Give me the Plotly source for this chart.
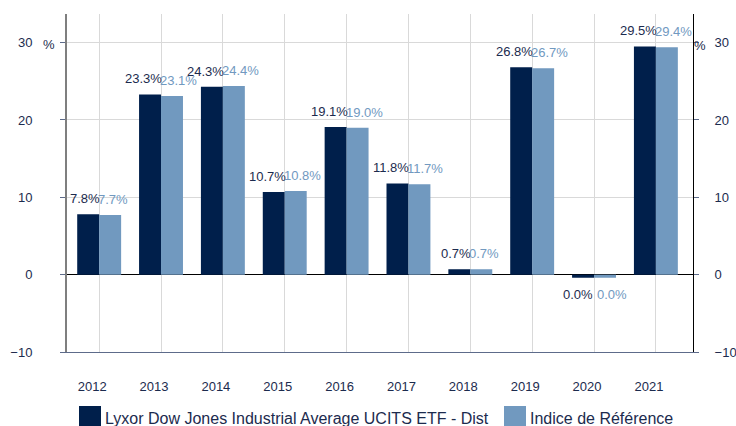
import plotly.graph_objects as go

years = ["2012", "2013", "2014", "2015", "2016", "2017", "2018", "2019", "2020", "2021"]
fund = [7.8, 23.3, 24.3, 10.7, 19.1, 11.8, 0.7, 26.8, -0.4, 29.5]
index = [7.7, 23.1, 24.4, 10.8, 19.0, 11.7, 0.7, 26.7, -0.4, 29.4]
fund_labels = ["7.8%", "23.3%", "24.3%", "10.7%", "19.1%", "11.8%", "0.7%", "26.8%", "0.0%", "29.5%"]
index_labels = ["7.7%", "23.1%", "24.4%", "10.8%", "19.0%", "11.7%", "0.7%", "26.7%", "0.0%", "29.4%"]
yticks = [-10, 0, 10, 20, 30]
fund_name = "Lyxor Dow Jones Industrial Average UCITS ETF - Dist"
index_name = "Indice de Référence"

DARK = "#001f4b"
LIGHT = "#7199bf"
TXT = "#1c2b4e"
FONT = "Liberation Sans, Arial, sans-serif"

fig = go.Figure()
fig.add_trace(go.Bar(x=years, y=fund, name=fund_name, marker=dict(color=DARK, line=dict(width=0))))
fig.add_trace(go.Bar(x=years, y=index, name=index_name, marker=dict(color=LIGHT, line=dict(width=0))))
fig.add_trace(go.Scatter(x=[years[0]], y=[0], yaxis="y2", mode="markers",
                         marker=dict(opacity=0), showlegend=False, hoverinfo="skip"))

annotations = []
for i, (v, t) in enumerate(zip(fund, fund_labels)):
    annotations.append(dict(x=i, y=v, xref="x", yref="y", text=t, showarrow=False,
                            xanchor="right", yanchor="bottom" if v >= 0 else "top",
                            yshift=6 if v >= 0 else -7, xshift=3 if v >= 0 else 1,
                            font=dict(size=13, color=TXT)))
for i, (v, t) in enumerate(zip(index, index_labels)):
    annotations.append(dict(x=i, y=v, xref="x", yref="y", text=t, showarrow=False,
                            xanchor="left", yanchor="bottom" if v >= 0 else "top",
                            yshift=6 if v >= 0 else -7, xshift=-3 if v >= 0 else 1,
                            font=dict(size=13, color=LIGHT)))
annotations += [
    dict(text="%", xref="paper", yref="y", x=0, y=30, xanchor="right", xshift=-10, yshift=-2,
         showarrow=False, font=dict(size=13, color=TXT)),
    dict(text="%", xref="paper", yref="y", x=1, y=30, xanchor="left", xshift=-1, yshift=-3,
         showarrow=False, font=dict(size=13, color=TXT)),
    dict(text=fund_name, xref="paper", yref="paper", x=0, y=0, xanchor="left", yanchor="middle",
         xshift=36, yshift=-66, showarrow=False, font=dict(size=16, color=TXT)),
    dict(text=index_name, xref="paper", yref="paper", x=0, y=0, xanchor="left", yanchor="middle",
         xshift=461, yshift=-66, showarrow=False, font=dict(size=16, color=TXT)),
]

W, H = 626.0, 338.0
shapes = [
    dict(type="rect", xref="paper", yref="paper", x0=(79 - 67) / W, x1=(101 - 67) / W,
         y0=(352 - 428) / H, y1=(352 - 406) / H, fillcolor=DARK, line=dict(width=0)),
    dict(type="rect", xref="paper", yref="paper", x0=(504 - 67) / W, x1=(526 - 67) / W,
         y0=(352 - 428) / H, y1=(352 - 406) / H, fillcolor=LIGHT, line=dict(width=0)),
]

rng = [-10, 33.7]
fig.update_layout(
    width=736, height=426,
    margin=dict(l=67, r=43, t=14, b=74, autoexpand=False),
    paper_bgcolor="white", plot_bgcolor="white",
    barmode="group", bargap=0.29, bargroupgap=0,
    font=dict(family=FONT, color=TXT, size=13),
    showlegend=False,
    annotations=annotations, shapes=shapes,
    xaxis=dict(range=[-0.52, 9.6], showgrid=True, gridcolor="#d9d9d9", gridwidth=1, showline=True,
               linecolor="#5d6b8a", linewidth=1, ticks="", ticklabelstandoff=22,
               ticklabelshift=-7,
               tickfont=dict(size=13, color=TXT), zeroline=False),
    yaxis=dict(range=rng, tickvals=yticks, showgrid=True, gridcolor="#d9d9d9",
               zeroline=True, zerolinecolor="#000000", zerolinewidth=1,
               showline=True, linecolor="#7f7f7f", linewidth=2,
               ticks="outside", ticklen=5, tickcolor="#5d6b8a",
               ticklabelstandoff=25, tickfont=dict(size=13, color=TXT)),
    yaxis2=dict(range=rng, tickvals=yticks, overlaying="y", side="right",
                showgrid=False, zeroline=False, showline=True, linecolor="#000000",
                linewidth=1, ticks="outside", ticklen=5, tickcolor="#5d6b8a",
                ticklabelstandoff=13, tickfont=dict(size=13, color=TXT)),
)
fig.write_html("out.html", config={"displayModeBar": False},
               post_script="document.body.style.margin='0';document.body.style.overflow='hidden';")
